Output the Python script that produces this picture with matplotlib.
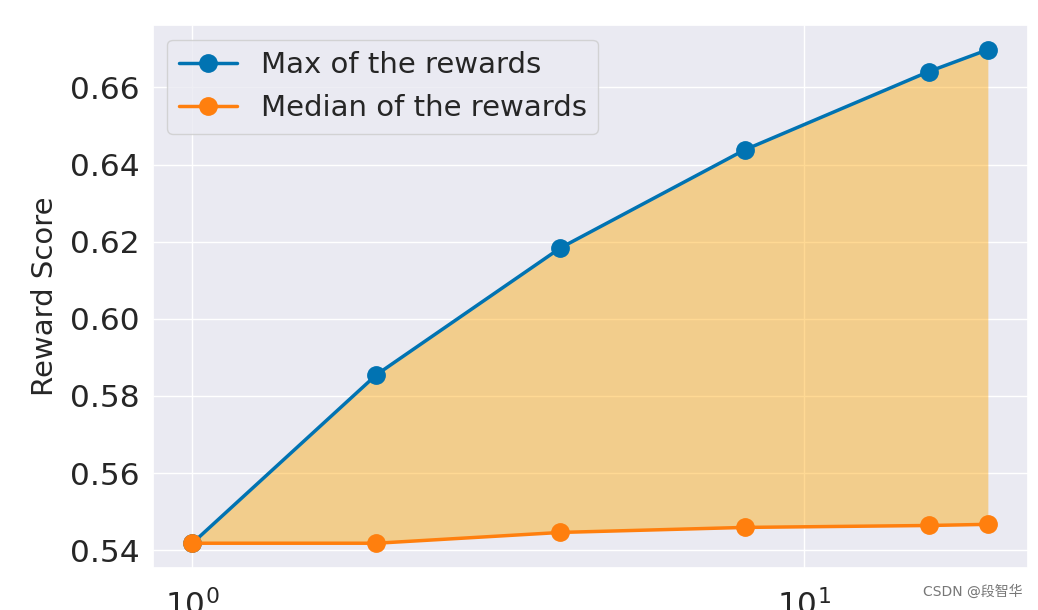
import matplotlib
matplotlib.use("Agg")
import matplotlib.pyplot as plt
import seaborn as sns

sns.set_theme(style="darkgrid")
plt.rcParams['font.family'] = ['DejaVu Sans', 'Noto Sans CJK SC']

x_values = [1, 2, 4, 8, 16, 20]
max_rewards = [0.5418, 0.5855, 0.6184, 0.6438, 0.6641, 0.6698]
median_rewards = [0.5418, 0.5418, 0.5446, 0.5459, 0.5464, 0.5467]
y_ticks = [0.54, 0.56, 0.58, 0.60, 0.62, 0.64, 0.66]
series_labels = ["Max of the rewards", "Median of the rewards"]

fig = plt.figure(figsize=(10.38, 6.10), dpi=100)
ax = fig.add_axes([0.147, 0.069, 0.843, 0.890])

ax.plot(x_values, max_rewards, color="#0173b2", marker="o", lw=2.5, ms=12.5,
        label=series_labels[0])
ax.plot(x_values, median_rewards, color="#ff7f0e", marker="o", lw=2.5, ms=12.5,
        label=series_labels[1])
ax.fill_between(x_values, median_rewards, max_rewards, color="#ffa500", alpha=0.42, lw=0)
ax.set_xscale("log")
ax.set_yticks(y_ticks)
ax.set_yticklabels([f"{v:.2f}" for v in y_ticks])
ax.tick_params(axis="y", labelsize=22.5, colors="#262626")
ax.tick_params(axis="x", labelsize=22.5, colors="#262626", pad=9)
ax.set_ylabel("Reward Score", fontsize=21, color="#262626", labelpad=8)
ax.minorticks_off()
ax.legend(loc="upper left", fontsize=21, framealpha=0.8, borderpad=0.4,
          bbox_to_anchor=(0.0, 1.0))

fig.text(0.985, 0.018, "CSDN @段智华", ha="right", va="bottom", fontsize=10,
         color="#777777", family=['DejaVu Sans', 'Noto Sans CJK SC'])

fig.savefig("out.png", dpi=100)
